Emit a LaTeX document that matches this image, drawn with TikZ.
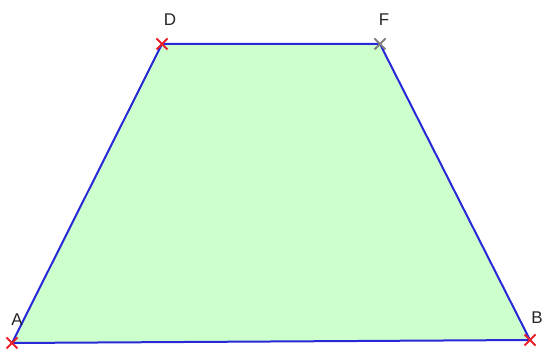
\documentclass[tikz,border=0pt]{standalone}
\usepackage{fontspec}
\setmainfont{Liberation Sans}
\usetikzlibrary{shapes.misc}
\definecolor{trapfill}{HTML}{CCFFCC}
\definecolor{trapline}{HTML}{2828D8}
\definecolor{ptred}{HTML}{E8202A}
\definecolor{ptgrey}{HTML}{808080}

\begin{document}
\begin{tikzpicture}[x=1pt,y=-1pt,
  pt/.style={cross out,draw=#1,line width=2pt,minimum size=9pt,inner sep=0pt},
  lbl/.style={font=\fontsize{17}{17}\selectfont,text=black!85,inner sep=0pt},
  side/.style={trapline,line width=2pt}
]
\useasboundingbox (0,0) rectangle (544,352);
\coordinate (a) at (12,343);
\coordinate (b) at (530,340);
\coordinate (f) at (380,44);
\coordinate (d) at (162,44);

\fill[trapfill] (a) -- (b) -- (f) -- (d) -- cycle;
\draw[side] (a) -- (b) -- (f) -- (d) -- cycle;

\node[pt=ptred] (A) at (a) {};
\node[pt=ptred] (B) at (b) {};
\node[pt=ptgrey] (F) at (f) {};
\node[pt=ptred] (D) at (d) {};

\node[lbl] (labA) at (17,320) {A};
\node[lbl] (labB) at (537,318) {B};
\node[lbl] (labD) at (170,20) {D};
\node[lbl] (labF) at (384,20) {F};
\end{tikzpicture}
\end{document}
